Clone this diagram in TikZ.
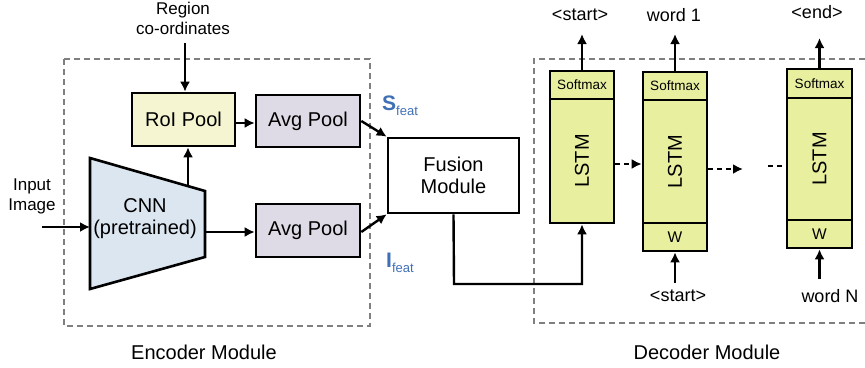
\documentclass[tikz,border=0pt]{standalone}
\usepackage{fontspec}
\setmainfont{Liberation Sans}
\usetikzlibrary{arrows.meta,calc}
\definecolor{roicol}{HTML}{F5F5D2}
\definecolor{avgcol}{HTML}{DEDBE6}
\definecolor{cnncol}{HTML}{DCE6F0}
\definecolor{lstmcol}{HTML}{E8F0A0}
\definecolor{featblue}{HTML}{3F6FB5}
\definecolor{dashgray}{HTML}{7F7F7F}
\begin{document}
\begin{tikzpicture}[x=1pt,y=-1pt,
  blk/.style={draw, line width=2.6pt, inner sep=0pt, font=\fontsize{20}{20}\selectfont},
  lbl/.style={inner sep=1pt, align=center, font=\fontsize{17}{20}\selectfont},
  cell/.style={draw, line width=2.6pt, fill=lstmcol, inner sep=0pt, minimum width=64pt},
  arr/.style={line width=2.4pt, -{Latex[length=10pt,width=10pt]}},
  dasharr/.style={line width=2.6pt, dash pattern=on 5pt off 4pt, -{Latex[length=10pt,width=10pt]}},
  dashline/.style={line width=2.6pt, dash pattern=on 5pt off 4pt},
  modbox/.style={draw=dashgray, line width=2.2pt, dash pattern=on 6pt off 4pt},
  plain/.style={line width=2.4pt}
]
\useasboundingbox (0,0) rectangle (865,367);

% module boxes
\draw[modbox] (64,59) rectangle (370,326);
\draw[modbox] (875,59) -- (534,59) -- (534,323) -- (875,323);
\node[lbl, font=\fontsize{20}{20}\selectfont] (encl) at (204,352) {Encoder Module};
\node[lbl, font=\fontsize{20}{20}\selectfont] (decl) at (707,352) {Decoder Module};

% CNN trapezoid
\coordinate (t1) at (90,158);
\coordinate (t2) at (205,191);
\coordinate (t3) at (205,257);
\coordinate (t4) at (90,289);
\draw[line width=2.6pt, fill=cnncol, line join=miter] (t1) -- (t2) -- (t3) -- (t4) -- cycle;
\node[lbl, font=\fontsize{20}{22}\selectfont] (cnn) at (145,219) {CNN\\(pretrained)};

% encoder blocks
\node[blk, fill=roicol, minimum width=103pt, minimum height=53pt] (roi) at (183.5,119.5) {RoI Pool};
\node[blk, fill=avgcol, minimum width=104pt, minimum height=52pt] (avg1) at (308,121) {Avg Pool};
\node[blk, fill=avgcol, minimum width=104pt, minimum height=53pt] (avg2) at (308,230.5) {Avg Pool};
\node[blk, fill=white, minimum width=131pt, minimum height=75pt, align=center,
      font=\fontsize{20}{22}\selectfont] (fus) at (453.5,175.5) {Fusion\\Module};

% labels
\node[lbl] (reg) at (183,18) {Region\\co-ordinates};
\node[lbl] (inp) at (32,196) {Input\\Image};
\node[anchor=base west, inner sep=0pt, text=featblue] (sfeat) at (382,110)
  {{\fontsize{21}{21}\selectfont\bfseries S}{\fontsize{13}{13}\selectfont\raisebox{-5pt}{feat}}};
\node[anchor=base west, inner sep=0pt, text=featblue] (ifeat) at (386,267)
  {{\fontsize{21}{21}\selectfont\bfseries I}{\fontsize{13}{13}\selectfont\raisebox{-5pt}{feat}}};

% encoder connectors
\coordinate (regA) at (185,43);
\draw[arr] (regA) -- (regA |- roi.north);
\coordinate (inA) at (42,227);
\coordinate (inB) at (90,227);
\draw[arr] (inA) -- (inB);
\coordinate (cnnT) at (188,186);
\draw[arr] (cnnT) -- (cnnT |- roi.south);
\coordinate (cnnR) at (205,232);
\draw[arr] (cnnR) -- (cnnR -| avg2.west);
\draw[arr] (roi.east |- 0,123) -- (avg1.west |- 0,123);
\draw[arr] (avg1.east) -- (fus.north west);
\draw[arr] ($(avg2.east)+(0,1.5)$) -- (fus.south west);

% decoder cells
\node[cell, minimum height=28pt, font=\fontsize{13.5}{14}\selectfont] (sm1) at (582,85) {Softmax};
\node[cell, minimum height=124pt, font=\fontsize{20}{20}\selectfont] (l1) at (582,161) {\rotatebox{90}{LSTM}};

\node[cell, minimum height=28pt, font=\fontsize{13.5}{14}\selectfont] (sm2) at (675,86) {Softmax};
\node[cell, minimum height=123pt, font=\fontsize{20}{20}\selectfont] (l2) at (675,161.5) {\rotatebox{90}{LSTM}};
\node[cell, minimum height=28pt, font=\fontsize{15.5}{16}\selectfont] (w2) at (675,237) {W};

\node[cell, minimum width=65pt, minimum height=29pt, font=\fontsize{13.5}{14}\selectfont] (sm3) at (819.5,83.5) {Softmax};
\node[cell, minimum width=65pt, minimum height=122pt, font=\fontsize{20}{20}\selectfont] (l3) at (819.5,159) {\rotatebox{90}{LSTM}};
\node[cell, minimum width=65pt, minimum height=28pt, font=\fontsize{15.5}{16}\selectfont] (w3) at (819.5,234) {W};

% decoder labels
\node[lbl, font=\fontsize{18}{18}\selectfont] (o1) at (580,15) {<start>};
\node[lbl, font=\fontsize{18}{18}\selectfont] (o2) at (674,15) {word 1};
\node[lbl, font=\fontsize{18}{18}\selectfont] (o3) at (817,12) {<end>};
\node[lbl, font=\fontsize{18}{18}\selectfont] (i2l) at (678,296) {<start>};
\node[lbl, font=\fontsize{18}{18}\selectfont] (i3l) at (830,296) {word N};

% decoder connectors
\coordinate (o1a) at (582,34);
\coordinate (o2a) at (675,34);
\coordinate (o3a) at (819.5,38);
\draw[arr] (sm1.north) -- (o1a);
\draw[arr] (sm2.north) -- (o2a);
\draw[arr] (sm3.north) -- (o3a);
\coordinate (i2a) at (675,283);
\coordinate (i3a) at (819.5,279);
\draw[arr] (i2a) -- (w2.south);
\draw[arr] (i3a) -- (w3.south);

\draw[dasharr] (l1.east |- 0,164) -- (l2.west |- 0,164);
\coordinate (dA) at (743,169);
\draw[dasharr] (l2.east |- dA) -- (dA);
\coordinate (dB) at (768,166);
\draw[dashline] (dB) -- (dB -| l3.west);

\coordinate (fb) at (454,284);
\draw[arr] (fus.south) -- (fb) -| (l1.south);
\end{tikzpicture}
\end{document}
